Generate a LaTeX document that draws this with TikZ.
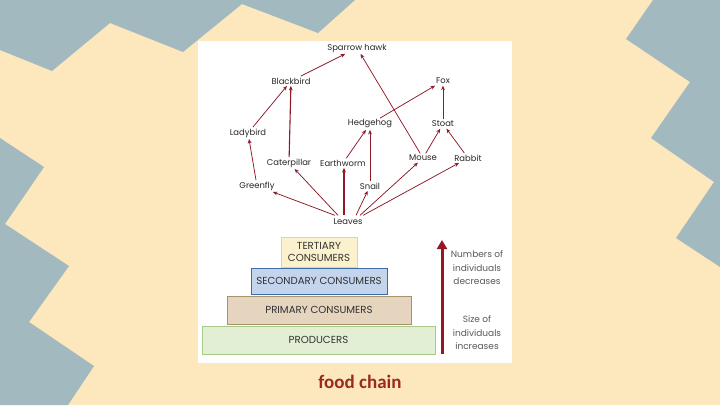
\documentclass[tikz,border=0pt]{standalone}
\usepackage{fontspec}
\setmainfont{Poppins}
\newfontfamily\titlefont{Carlito}
\usetikzlibrary{arrows.meta}
\definecolor{sfondo}{RGB}{253,231,189}
\definecolor{grigioblu}{RGB}{163,185,192}
\definecolor{freccia}{RGB}{140,26,40}
\definecolor{titolo}{RGB}{155,42,30}
\definecolor{terziario}{RGB}{251,241,205}
\definecolor{terziariobordo}{RGB}{238,214,112}
\definecolor{secondario}{RGB}{195,212,236}
\definecolor{secondariobordo}{RGB}{60,109,168}
\definecolor{primario}{RGB}{229,212,190}
\definecolor{primariobordo}{RGB}{168,145,110}
\definecolor{produttori}{RGB}{226,239,213}
\definecolor{produttoribordo}{RGB}{165,203,133}
\begin{document}
\begin{tikzpicture}[x=1pt,y=-1pt,
    specie/.style={inner sep=1.5pt,font=\fontsize{8.4}{9}\selectfont,text=black!85},
    catena/.style={draw=freccia,line width=0.75pt,-{Stealth[length=4.5pt,width=3.8pt]}},
    livello/.style={draw,line width=0.9pt,font=\fontsize{10.2}{11.5}\selectfont,text=black!80,align=center,inner sep=0pt},
    nota/.style={font=\fontsize{9}{13.5}\selectfont,text=black!65,align=center}]

    % Sfondo
    \fill[sfondo] (0,0) rectangle (720,405);
    \fill[grigioblu] (0,0) -- (355,0) -- (318,33) -- (242,4) -- (183,52) -- (110,23) -- (52,71) -- (0,50) -- cycle;
    \fill[grigioblu] (0,138) -- (44,167) -- (5,224) -- (69,266) -- (29,322) -- (94,366) -- (68,405) -- (0,405) -- cycle;
    \fill[grigioblu] (653,0) -- (626,39) -- (690,82) -- (651,138) -- (714,182) -- (676,238) -- (720,267) -- (720,0) -- cycle;
    \fill[white] (198,41) rectangle (512,363);

    % Rete alimentare
    \node[specie] (hawk) at (357,48) {Sparrow hawk};
    \node[specie] (blackbird) at (291,81) {Blackbird};
    \node[specie] (fox) at (443,81) {Fox};
    \node[specie] (ladybird) at (248,133) {Ladybird};
    \node[specie] (hedgehog) at (370,124) {Hedgehog};
    \node[specie] (stoat) at (443,124) {Stoat};
    \node[specie] (caterpillar) at (289,163) {Caterpillar};
    \node[specie] (earthworm) at (343,163) {Earthworm};
    \node[specie] (mouse) at (423,158) {Mouse};
    \node[specie] (rabbit) at (468,158) {Rabbit};
    \node[specie] (greenfly) at (257,186) {Greenfly};
    \node[specie] (snail) at (370,186) {Snail};
    \node[specie] (leaves) at (348,222) {Leaves};

    % Frecce (chi mangia chi)
    \foreach \da/\a in {blackbird/hawk,mouse/hawk,ladybird/blackbird,hedgehog/fox,stoat/fox,
        greenfly/ladybird,earthworm/hedgehog,snail/hedgehog,mouse/stoat,rabbit/stoat}
        \draw[catena] (\da) -- (\a);
    \draw[catena,line width=1.1pt] (caterpillar) -- (blackbird);

    % Frecce dalle foglie
    \foreach \dx/\a in {-13/greenfly,-10/caterpillar,8/snail,12/mouse,15/rabbit}
        \draw[catena] ([xshift=\dx pt,yshift=2pt]leaves.north) -- (\a);
    \coordinate (partenza) at ([xshift=-4pt,yshift=2pt]leaves.north);
    \draw[catena,line width=1.1pt] (partenza) -- (partenza |- earthworm.south);

    % Piramide
    \node[livello,draw=terziariobordo,fill=terziario,minimum width=76pt,minimum height=30pt] (tertiary) at (319,252) {TERTIARY\\CONSUMERS};
    \node[livello,draw=secondariobordo,fill=secondario,minimum width=136pt,minimum height=26pt] (secondary) at (319,281) {SECONDARY CONSUMERS};
    \node[livello,draw=primariobordo,fill=primario,minimum width=184pt,minimum height=28pt] (primary) at (319,310) {PRIMARY CONSUMERS};
    \node[livello,draw=produttoribordo,fill=produttori,minimum width=233pt,minimum height=28pt] (producers) at (318.5,340) {PRODUCERS};

    % Freccia verticale
    \coordinate (basso) at (442,354);
    \coordinate (alto) at (442,240);
    \draw[draw=freccia!90!red,line width=3pt,-{Triangle[length=9pt,width=10pt]}] (basso) -- (alto);
    \node[nota] (numero) at (477,268) {Numbers of\\individuals\\decreases};
    \node[nota] (taglia) at (477,333) {Size of\\individuals\\increases};

    % Titolo
    \node[text=titolo,font=\titlefont\bfseries\fontsize{19}{20}\selectfont] (titolo) at (360,382) {food chain};

\end{tikzpicture}
\end{document}
